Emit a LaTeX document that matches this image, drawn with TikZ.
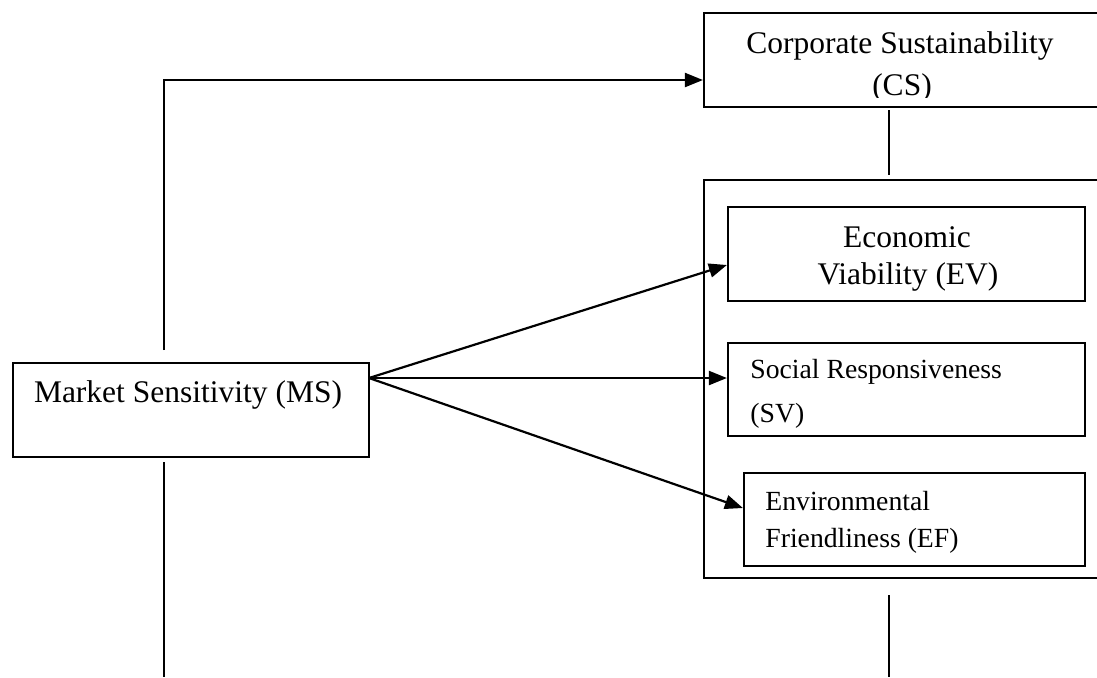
\documentclass[tikz,border=0pt]{standalone}
\usepackage{fontspec}
\setmainfont{Liberation Serif}
\usetikzlibrary{arrows.meta}
\tikzset{
  blk/.style={draw, line width=1.1pt, inner sep=0pt},
  txt/.style={inner sep=0pt, anchor=base},
  txtl/.style={inner sep=0pt, anchor=base west},
  bigf/.style={font=\fontsize{15.75}{18}\selectfont},
  smallf/.style={font=\fontsize{13.85}{16}\selectfont},
  ln/.style={line width=1.1pt},
  arr/.style={line width=1.1pt, -{Triangle[length=9pt,width=7pt]}}
}
\begin{document}
\begin{tikzpicture}[x=0.5pt,y=-0.5pt]
\clip (0,0) rectangle (1097,677);

% boxes
\node[blk, minimum width=203pt, minimum height=47pt]   (cs)  at (907,60)    {};
\node[blk, minimum width=203pt, minimum height=199pt]  (grp) at (907,379)   {};
\node[blk, minimum width=178.5pt, minimum height=47pt] (ev)  at (906.5,254) {};
\node[blk, minimum width=178.5pt, minimum height=46.5pt] (sv) at (906.5,389.5) {};
\node[blk, minimum width=170.5pt, minimum height=46.5pt] (ef) at (914.5,519.5) {};
\node[blk, minimum width=178pt, minimum height=47pt]   (ms)  at (191,410)   {};

% texts
\node[txt, bigf] (cs1) at (900,53) {Corporate Sustainability};
\begin{scope}
\clip (704,13) rectangle (1110,97);
\node[txt, bigf] (cs2) at (902,95) {(CS)};
\end{scope}
\node[txt, bigf] (ev1) at (907,247) {Economic};
\node[txt, bigf] (ev2) at (908,284) {Viability (EV)};
\node[txtl, smallf] (sv1) at (750,378) {Social Responsiveness};
\node[txtl, smallf] (sv2) at (750,422) {(SV)};
\node[txtl, smallf] (ef1) at (765,510) {Environmental};
\node[txtl, smallf] (ef2) at (765,547) {Friendliness (EF)};
\node[txt, bigf] (ms1) at (188,402) {Market Sensitivity (MS)};

% free ends
\coordinate (up)   at (164,350);
\coordinate (down) at (164,462);
\coordinate (bot1) at (164,677);
\coordinate (src)  at (369,378);
\coordinate (cst)  at (889,110);
\coordinate (grt)  at (889,175);
\coordinate (grb)  at (889,595);
\coordinate (bot2) at (889,677);

% connectors
\draw[arr] (up) |- ([yshift=-10pt]cs.west);
\draw[ln] (down) -- (bot1);
\draw[ln] (cst) -- (grt);
\draw[ln] (grb) -- (bot2);
\draw[arr] (src) -- ([yshift=-5.5pt]ev.west);
\draw[arr] (src) -- ([yshift=5.75pt]sv.west);
\draw[arr] (src) -- ([yshift=5.75pt]ef.west);
\end{tikzpicture}
\end{document}
